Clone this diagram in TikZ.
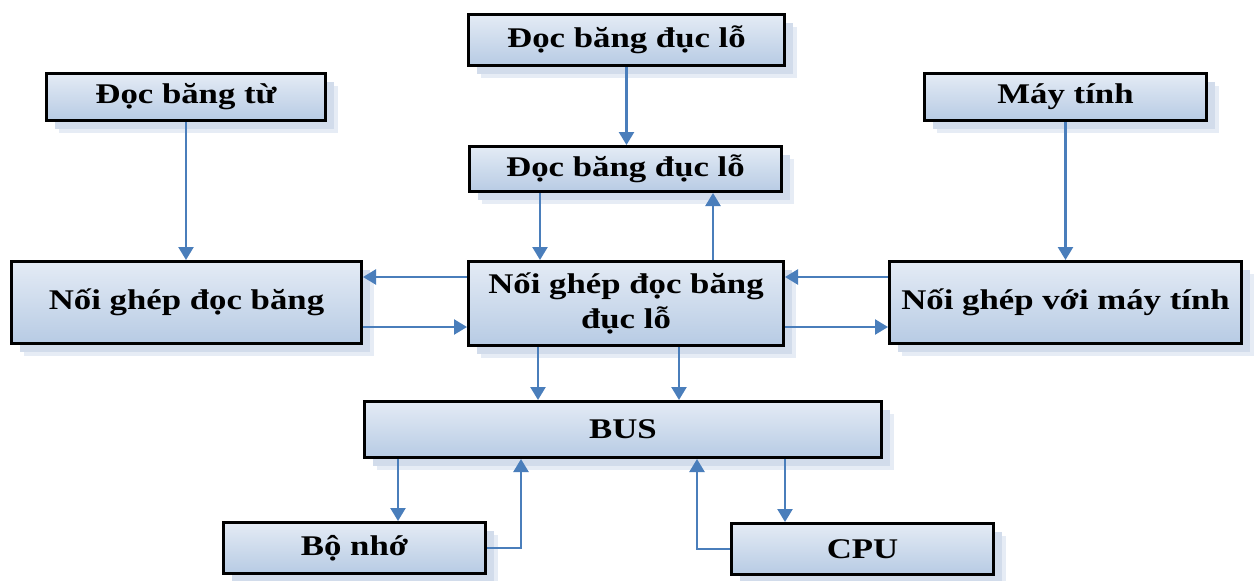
\documentclass[tikz,border=0pt]{standalone}
\usepackage{fontspec}
\setmainfont{Liberation Serif}
\usetikzlibrary{arrows.meta,shadows}
\definecolor{arrc}{RGB}{74,126,187}
\definecolor{boxtop}{RGB}{228,235,245}
\definecolor{boxbot}{RGB}{183,203,228}
\definecolor{shad}{RGB}{210,220,235}
\definecolor{shadout}{RGB}{230,236,245}
\newcommand\wtxt[1]{\scalebox{1.22}[1]{#1}}
\begin{document}
\begin{tikzpicture}[x=1pt,y=-1pt,
  box/.style={draw=black,line width=3pt,top color=boxtop,bottom color=boxbot,
    general shadow={fill=shadout,shadow xshift=12pt,shadow yshift=-12pt},
    general shadow={fill=shad,shadow xshift=8pt,shadow yshift=-8pt},
    inner sep=0pt,font=\fontsize{28.5}{35}\selectfont\bfseries,text=black},
  arr/.style={draw=arrc,line width=2.4pt,-{Triangle[length=13pt,width=15pt]}}]
\fill[white] (0,0) rectangle (1256,581);
\useasboundingbox (0,0) rectangle (1256,581);

\node[box,minimum width=279pt,minimum height=47pt] (A) at (186,97) {\wtxt{Đọc băng từ}};
\node[box,minimum width=316pt,minimum height=51pt] (B) at (626.5,40) {\wtxt{Đọc băng đục lỗ}};
\node[box,minimum width=312pt,minimum height=45pt] (C) at (625.5,169) {\wtxt{Đọc băng đục lỗ}};
\node[box,minimum width=282pt,minimum height=47pt] (D) at (1065.5,97) {\wtxt{Máy tính}};
\node[box,minimum width=350pt,minimum height=82pt] (E) at (186.5,302.5) {\wtxt{Nối ghép đọc băng}};
\node[box,minimum width=315pt,minimum height=84pt] (F) at (626,303.5) {\wtxt{\begin{tabular}{@{}c@{}}Nối ghép đọc băng\\đục lỗ\end{tabular}}};
\node[box,minimum width=352pt,minimum height=82pt] (G) at (1065.5,302.5) {\wtxt{Nối ghép với máy tính}};
\node[box,minimum width=517pt,minimum height=56pt] (H) at (623,429.5) {\wtxt{BUS}};
\node[box,minimum width=262pt,minimum height=51pt] (I) at (354.5,548) {\wtxt{Bộ nhớ}};
\node[box,minimum width=262pt,minimum height=51pt] (J) at (862.5,549) {\wtxt{CPU}};

\coordinate (lvUp) at (0,277);
\coordinate (lvDn) at (0,327);
\coordinate (xC1) at (540,0);
\coordinate (xC2) at (713,0);
\coordinate (xF1) at (538,0);
\coordinate (xF2) at (679,0);
\coordinate (xH1) at (398,0);
\coordinate (xI) at (521,0);
\coordinate (xJ) at (697,0);
\coordinate (xH2) at (785,0);

\draw[arr] (A.south) -- (A.south |- E.north);
\draw[arr] (B.south) -- (B.south |- C.north);
\draw[arr] (xC1 |- C.south) -- (xC1 |- F.north);
\draw[arr] (xC2 |- F.north) -- (xC2 |- C.south);
\draw[arr] (F.west |- lvUp) -- (E.east |- lvUp);
\draw[arr] (E.east |- lvDn) -- (F.west |- lvDn);
\draw[arr] (G.west |- lvUp) -- (F.east |- lvUp);
\draw[arr] (F.east |- lvDn) -- (G.west |- lvDn);
\draw[arr] (D.south) -- (D.south |- G.north);
\draw[arr] (xF1 |- F.south) -- (xF1 |- H.north);
\draw[arr] (xF2 |- F.south) -- (xF2 |- H.north);
\draw[arr] (xH1 |- H.south) -- (xH1 |- I.north);
\draw[arr] (I.east) -| (xI |- H.south);
\draw[arr] (J.west) -| (xJ |- H.south);
\draw[arr] (xH2 |- H.south) -- (xH2 |- J.north);
\end{tikzpicture}
\end{document}
